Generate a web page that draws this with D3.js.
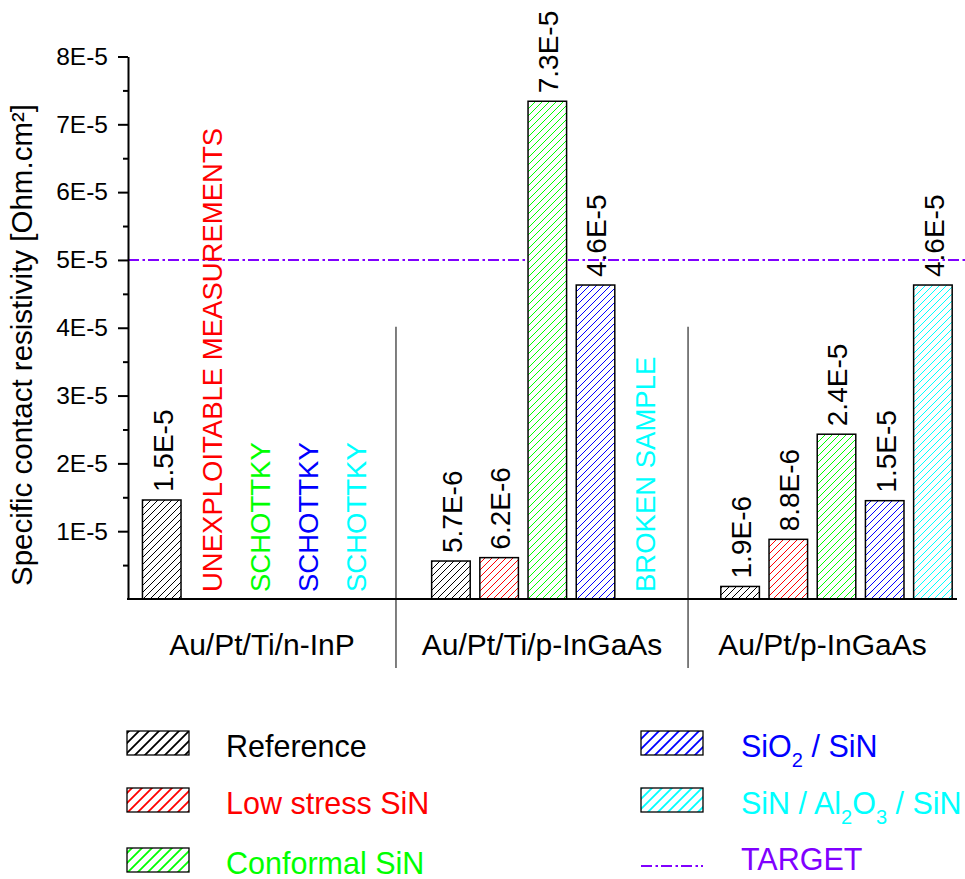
<!DOCTYPE html>
<html><head><meta charset="utf-8">
<script src="https://cdn.jsdelivr.net/npm/d3@7"></script>
<style>
body{margin:0;background:#fff}
text{font-family:"Liberation Sans",Arial,Helvetica,sans-serif}
</style>
</head><body>
<svg id="c" width="965" height="879"></svg>
<script>
// ---------- DATA ----------
const categories = ["Au/Pt/Ti/n-InP", "Au/Pt/Ti/p-InGaAs", "Au/Pt/p-InGaAs"];
const seriesNames = ["Reference", "Low stress SiN", "Conformal SiN", "SiO2 / SiN", "SiN / Al2O3 / SiN"];
const seriesColors = ["#000000", "#ff0000", "#00ff00", "#0000ff", "#00ffff"];
// values per series, one per category (null = no bar)
const referenceValues = [1.46e-5, 5.6e-6, 1.85e-6];
const lowStressValues = [null, 6.1e-6, 8.8e-6];
const conformalValues = [null, 7.34e-5, 2.43e-5];
const sio2Values = [null, 4.63e-5, 1.45e-5];
const al2o3Values = [null, null, 4.63e-5];
// value labels written above the bars
const referenceLabels = ["1.5E-5", "5.7E-6", "1.9E-6"];
const lowStressLabels = [null, "6.2E-6", "8.8E-6"];
const conformalLabels = [null, "7.3E-5", "2.4E-5"];
const sio2Labels = [null, "4.6E-5", "1.5E-5"];
const al2o3Labels = [null, null, "4.6E-5"];
// notes shown in place of missing bars
const referenceNotes = [null, null, null];
const lowStressNotes = ["UNEXPLOITABLE MEASUREMENTS", null, null];
const conformalNotes = ["SCHOTTKY", null, null];
const sio2Notes = ["SCHOTTKY", null, null];
const al2o3Notes = ["SCHOTTKY", "BROKEN SAMPLE", null];
const yMajorTicks = [1e-5, 2e-5, 3e-5, 4e-5, 5e-5, 6e-5, 7e-5, 8e-5];
const yMinorTicks = [0.5e-5, 1.5e-5, 2.5e-5, 3.5e-5, 4.5e-5, 5.5e-5, 6.5e-5, 7.5e-5];
const targetValue = 5e-5;
const targetLabel = "TARGET";
const yTitle = "Specific contact resistivity [Ohm.cm²]";

const seriesValues = [referenceValues, lowStressValues, conformalValues, sio2Values, al2o3Values];
const seriesLabels = [referenceLabels, lowStressLabels, conformalLabels, sio2Labels, al2o3Labels];
const seriesNotes = [referenceNotes, lowStressNotes, conformalNotes, sio2Notes, al2o3Notes];

// ---------- LAYOUT ----------
const FONT = "'Liberation Sans',Arial,sans-serif";
const svg = d3.select("#c");
const plotLeft = 128, plotRight = 957, plotTop = 56.5, plotBottom = 599;
const slotsPerGroup = 6;
const x = d3.scaleLinear().domain([-0.7, 16.5]).range([plotLeft, plotRight]);
const y = d3.scaleLinear().domain([0, 8e-5]).range([plotBottom, plotTop]);
const bw = x(0.4) - x(-0.4);

const defs = svg.append("defs");
function hatch(id, color, size, sw) {
  const p = defs.append("pattern").attr("id", id).attr("patternUnits", "userSpaceOnUse")
    .attr("width", size).attr("height", size);
  p.append("rect").attr("width", size).attr("height", size).attr("fill", "#fff");
  p.append("path")
    .attr("d", `M${-size/4},${size/4} l${size/2},${-size/2} M0,${size} l${size},${-size} M${size*0.75},${size*1.25} l${size/2},${-size/2}`)
    .attr("stroke", color).attr("stroke-width", sw).attr("fill", "none");
}
seriesColors.forEach((c, i) => { hatch("h" + i, c, 7, 1); hatch("lh" + i, c, 10, 1.8); });

// group separators (between category groups), in slot units
const separators = [4.86, 10.92];
svg.selectAll(".sep").data(separators).enter().append("line")
  .attr("x1", d => x(d)).attr("x2", d => x(d))
  .attr("y1", y(4e-5) - 1).attr("y2", 668)
  .attr("stroke", "#555").attr("stroke-width", 1.5);

// target line
svg.append("line")
  .attr("x1", plotLeft).attr("x2", 965)
  .attr("y1", y(targetValue)).attr("y2", y(targetValue))
  .attr("stroke", "#8000ff").attr("stroke-width", 2)
  .attr("stroke-dasharray", "11,3.5,2.5,3");

// bars
const barData = [];
const labelData = [];
const noteData = [];
categories.forEach((cat, g) => {
  seriesNames.forEach((s, i) => {
    const pos = g * slotsPerGroup + i;
    const v = seriesValues[i][g];
    if (v != null) {
      barData.push({ pos, v, i });
      labelData.push({ pos, v, t: seriesLabels[i][g] });
    }
    const n = seriesNotes[i][g];
    if (n) noteData.push({ pos, t: n, i });
  });
});

svg.selectAll(".bar").data(barData).enter().append("rect")
  .attr("x", d => x(d.pos) - bw / 2).attr("width", bw)
  .attr("y", d => y(d.v)).attr("height", d => y(0) - y(d.v))
  .attr("fill", d => `url(#h${d.i})`)
  .attr("stroke", "#000").attr("stroke-width", 1.5);

svg.selectAll(".vl").data(labelData).enter().append("text")
  .attr("transform", d => `translate(${x(d.pos) + 1},${y(d.v) - 8}) rotate(-90)`)
  .attr("dy", "0.35em").attr("font-size", 28).attr("fill", "#000")
  .text(d => d.t);

svg.selectAll(".note").data(noteData).enter().append("text")
  .attr("transform", d => `translate(${x(d.pos) + 2},${y(0) - 7}) rotate(-90)`)
  .attr("dy", "0.35em").attr("font-size", 27.5).attr("fill", d => seriesColors[d.i])
  .text(d => d.t);

// axes
const yAxis = d3.axisLeft(y).tickValues(yMajorTicks).tickSize(10).tickSizeOuter(0).tickPadding(10)
  .tickFormat(d => Math.round(d * 1e5) + "E-5");
const gy = svg.append("g").attr("transform", `translate(${plotLeft},0)`).call(yAxis);
gy.selectAll("text").attr("font-size", 24.5).attr("font-family", FONT).attr("fill", "#000");
gy.selectAll("line").attr("stroke-width", 2);
gy.select(".domain").attr("stroke-width", 2);
const gyMinor = svg.append("g").attr("transform", `translate(${plotLeft},0)`)
  .call(d3.axisLeft(y).tickValues(yMinorTicks).tickSize(5).tickSizeOuter(0).tickFormat(""));
gyMinor.select(".domain").remove();
gyMinor.selectAll("line").attr("stroke-width", 2);

svg.append("line").attr("x1", plotLeft - 1).attr("x2", plotRight)
  .attr("y1", y(0)).attr("y2", y(0)).attr("stroke", "#000").attr("stroke-width", 2);

// category labels centered between boundaries
const bounds = [plotLeft, x(separators[0]), x(separators[1]), plotRight];
svg.selectAll(".cat").data(categories).enter().append("text")
  .attr("x", (d, i) => (bounds[i] + bounds[i + 1]) / 2)
  .attr("y", 655).attr("text-anchor", "middle").attr("font-size", 30).attr("fill", "#000")
  .text(d => d);

// y title
svg.append("text").attr("transform", `translate(22,345) rotate(-90)`)
  .attr("text-anchor", "middle").attr("dy", "0.35em").attr("font-size", 29.5).attr("fill", "#000")
  .text(yTitle);

// legend
function richText(sel, str) {
  // digits in chemical formulas are drawn as subscripts
  const parts = str.split(/(\d)/).filter(p => p !== "");
  let pendingDy = 0;
  parts.forEach(p => {
    if (/^\d$/.test(p)) {
      sel.append("tspan").attr("font-size", 20).attr("dy", 10 + pendingDy).text(p);
      pendingDy = -10;
    } else {
      sel.append("tspan").attr("dy", pendingDy).text(p);
      pendingDy = 0;
    }
  });
}
const legendCols = [{ sx: 127, tx: 226 }, { sx: 641, tx: 741 }];
const legendRows = [731, 788, 848];
const legendItems = seriesNames.map((n, i) => ({ n, i, col: i < 3 ? 0 : 1, row: i < 3 ? i : i - 3 }));
const lg = svg.append("g");
legendItems.forEach(d => {
  const c = legendCols[d.col], ry = legendRows[d.row];
  lg.append("rect").attr("x", c.sx).attr("y", ry).attr("width", 62).attr("height", 24)
    .attr("fill", `url(#lh${d.i})`).attr("stroke", "#000").attr("stroke-width", 1.3);
  const t = lg.append("text").attr("x", c.tx).attr("y", ry + 26).attr("font-size", 30.5)
    .attr("fill", seriesColors[d.i]);
  richText(t, d.n);
});
// target legend
lg.append("line").attr("x1", legendCols[1].sx).attr("x2", legendCols[1].sx + 62)
  .attr("y1", legendRows[2] + 18).attr("y2", legendRows[2] + 18)
  .attr("stroke", "#8000ff").attr("stroke-width", 2).attr("stroke-dasharray", "11,3.5,2.5,3");
lg.append("text").attr("x", legendCols[1].tx).attr("y", legendRows[2] + 22).attr("font-size", 30.5)
  .attr("fill", "#8000ff").text(targetLabel);
</script>
</body></html>
